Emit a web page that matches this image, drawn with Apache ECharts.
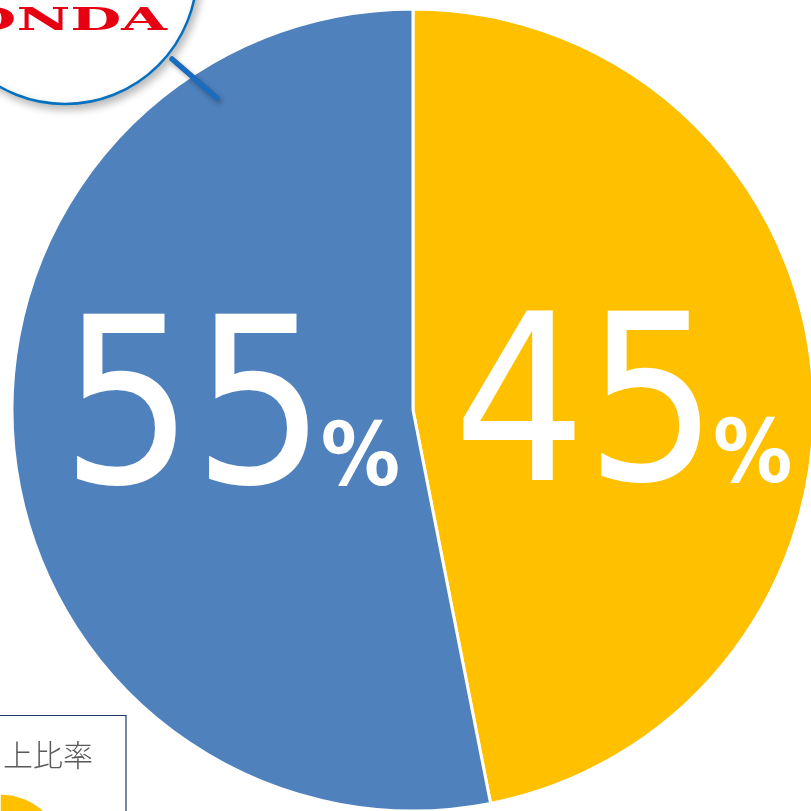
<!DOCTYPE html>
<html lang="ja" style="height: 100%">

<head>
  <meta charset="utf-8">
  <style>
    body {
      height: 100%;
      margin: 0;
      background: #ffffff;
    }

    #chart {
      width: 811px;
      height: 811px;
    }
  </style>
</head>

<body>
  <div id="chart"></div>
  <script type="text/javascript" src="https://cdn.jsdelivr.net/npm/echarts@6/dist/echarts.min.js"></script>
  <script type="text/javascript">
    // slice names (not shown in the picture)
    const categories = ['シェアA', 'シェアB'];
    // share measured from the slice angles
    const values = [46.9, 53.1];
    // percentages printed on the slices
    const labelPercents = [45, 55];
    const colors = ['#FFC000', '#4F81BD'];

    var myChart = echarts.init(document.getElementById('chart'), null, {
      renderer: 'canvas'
    });

    function pctLabel(params) {
      var digits = String(labelPercents[params.dataIndex]).split('');
      return digits.map(function (d) { return '{d|' + d + '}'; }).join('') + '{p|%}';
    }

    var numFont = '"DejaVu Sans Condensed", "DejaVu Sans", sans-serif';
    var labelRich = {
      d: {
        fontFamily: numFont,
        fontSize: 232,
        lineHeight: 240,
        width: 132,
        align: 'center',
        color: '#ffffff'
      },
      p: {
        fontFamily: numFont,
        fontWeight: 'bold',
        fontSize: 88,
        lineHeight: 94,
        verticalAlign: 'bottom',
        padding: [0, 0, 37, 0],
        width: 70,
        align: 'center',
        color: '#ffffff'
      }
    };

    var pieData = categories.map(function (name, i) {
      return {
        name: name,
        value: values[i],
        itemStyle: { color: colors[i] }
      };
    });
    // small nudges so the labels sit where they do in the picture
    pieData[0].label = { padding: [60, 0, 0, 10] };
    pieData[1].label = { padding: [0, 0, 14, 36] };

    var option = {
      animation: false,
      backgroundColor: '#ffffff',
      series: [
        {
          name: '売上比率',
          type: 'pie',
          center: [413, 410],
          radius: [0, 401],
          startAngle: 90,
          clockwise: true,
          silent: true,
          itemStyle: {
            borderColor: '#ffffff',
            borderWidth: 3
          },
          label: {
            show: true,
            position: 'inside',
            formatter: pctLabel,
            rich: labelRich
          },
          labelLine: { show: false },
          data: pieData
        },
        {
          // small legend pie, mostly cut off at the bottom-left
          name: 'mini',
          type: 'pie',
          center: [0, 858],
          radius: [0, 64],
          startAngle: 90,
          clockwise: true,
          silent: true,
          itemStyle: {
            borderColor: '#ffffff',
            borderWidth: 1
          },
          label: { show: false },
          labelLine: { show: false },
          data: pieData.map(function (d) {
            return { name: d.name, value: d.value, itemStyle: d.itemStyle };
          })
        }
      ],
      graphic: [
        // logo callout circle
        {
          type: 'circle',
          shape: { cx: 65, cy: -28, r: 132 },
          style: {
            fill: '#ffffff',
            stroke: '#0070C0',
            lineWidth: 2.5,
            shadowBlur: 8,
            shadowOffsetX: 3,
            shadowOffsetY: 4,
            shadowColor: 'rgba(0,0,0,0.28)'
          },
          z: 10
        },
        {
          type: 'text',
          x: 167,
          y: 22,
          originX: 0,
          originY: 0,
          scaleX: 1.9,
          style: {
            text: 'HONDA',
            fill: '#E60012',
            font: 'bold 31px "DejaVu Serif", serif',
            textAlign: 'right',
            textVerticalAlign: 'middle'
          },
          z: 11
        },
        {
          type: 'line',
          shape: { x1: 172, y1: 59, x2: 217, y2: 98 },
          style: {
            stroke: '#1A6DBE',
            lineWidth: 5.5,
            lineCap: 'round',
            shadowBlur: 5,
            shadowOffsetX: 2,
            shadowOffsetY: 3,
            shadowColor: 'rgba(0,0,0,0.3)'
          },
          z: 11
        },
        // legend box at bottom-left
        {
          type: 'rect',
          shape: { x: -5, y: 715.5, width: 131, height: 120 },
          style: {
            fill: 'none',
            stroke: '#1F3864',
            lineWidth: 1.2
          },
          z: 9
        },
        {
          type: 'text',
          x: 3,
          y: 755,
          style: {
            text: '上比率',
            fill: '#595959',
            font: '300 30px "Noto Sans CJK JP", sans-serif',
            textAlign: 'left',
            textVerticalAlign: 'middle'
          },
          z: 9
        }
      ]
    };

    myChart.setOption(option);
    window.addEventListener('resize', myChart.resize);
  </script>
</body>

</html>
